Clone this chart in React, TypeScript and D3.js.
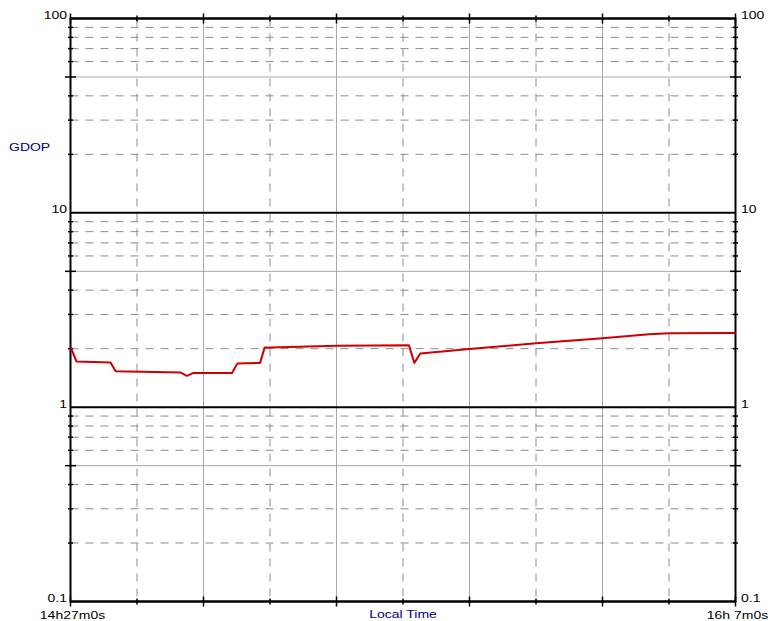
import React from 'react';
import * as d3 from 'd3';

// GDOP readings (time of day, value)
const times = [
  '14:27:00', '14:27:54', '14:33:00', '14:33:48', '14:43:30', '14:44:30', '14:45:30',
  '14:51:18', '14:52:06', '14:55:30', '14:56:12', '14:57:12', '15:07:00', '15:17:54',
  '15:18:42', '15:19:36', '15:27:00', '15:37:00', '15:47:00', '15:54:00', '15:57:00', '16:07:00',
];
const gdop = [
  2.04, 1.72, 1.70, 1.53, 1.51, 1.45, 1.50,
  1.50, 1.68, 1.69, 2.03, 2.03, 2.07, 2.08,
  1.69, 1.89, 1.99, 2.13, 2.26, 2.37, 2.40, 2.41,
];

const timeStart = '14:27:00';
const timeEnd = '16:07:00';
const tickStepMin = 10;
const timeLabels = ['14h27m0s', '16h 7m0s'];
const decades = [0.1, 1, 10, 100];
const decadeLabels = ['0.1', '1', '10', '100'];
const yTitle = 'GDOP';
const xTitle = 'Local Time';

const W = 770;
const H = 621;
const left = 70.5;
const right = 735.5;
const top = 18.5;
const bottom = 601.5;
const SX = 1.4; // the labels are drawn horizontally stretched

const parse = d3.timeParse('%H:%M:%S');

export default function App() {
  const t0 = parse(timeStart) as Date;
  const t1 = parse(timeEnd) as Date;
  const x = d3.scaleTime().domain([t0, t1]).range([left, right]);
  const y = d3.scaleLog().domain([0.1, 100]).range([bottom, top]);

  const pts = times.map((t, i) => ({ date: parse(t) as Date, v: gdop[i] }));
  const line = d3.line<{ date: Date; v: number }>()
    .x(d => x(d.date))
    .y(d => y(d.v));

  // ticks every 10 minutes from the start, solid grid every 20
  const nTicks = Math.round((+t1 - +t0) / 60000 / tickStepMin);
  const xTicks = d3.range(nTicks + 1).map(i => d3.timeMinute.offset(t0, i * tickStepMin));
  const inner = xTicks.slice(1, -1);

  // minor log grid values
  const minor: { v: number; solid: boolean }[] = [];
  [0.1, 1, 10].forEach(d => {
    for (let k = 2; k <= 9; k++) minor.push({ v: d * k, solid: k === 5 });
  });

  const label = (txt: string, px: number, py: number, anchor: string, color = '#000') => (
    <text
      key={txt + px + py}
      transform={`translate(${px},${py}) scale(${SX},1)`}
      textAnchor={anchor}
      fontFamily="Liberation Sans, Arial, sans-serif"
      fontSize={10}
      fill={color}
    >
      {txt}
    </text>
  );

  return (
    <svg width={W} height={H} style={{ position: 'absolute', left: 0, top: 0, background: '#fff' }}>
      {/* vertical grid */}
      {inner.map((d, i) => {
        const solid = i % 2 === 1;
        return (
          <line
            key={'vx' + i}
            x1={x(d)} x2={x(d)} y1={top} y2={bottom}
            stroke={solid ? '#a8a8a8' : '#8c8c8c'}
            strokeWidth={1}
            strokeDasharray={solid ? undefined : '8,7'}
          />
        );
      })}
      {/* horizontal minor grid */}
      {minor.map((m, i) => (
        <line
          key={'hy' + i}
          x1={left} x2={right} y1={y(m.v)} y2={y(m.v)}
          stroke={m.solid ? '#a8a8a8' : '#8c8c8c'}
          strokeWidth={1}
          strokeDasharray={m.solid ? undefined : '8,7'}
        />
      ))}
      {/* decade lines */}
      {decades.map(d => (
        <line key={'dec' + d} x1={left} x2={right} y1={y(d)} y2={y(d)} stroke="#000" strokeWidth={2} />
      ))}
      {/* frame */}
      <rect x={left} y={top} width={right - left} height={bottom - top} fill="none" stroke="#000" strokeWidth={2} />

      {/* x ticks top and bottom */}
      {xTicks.map((d, i) => {
        const len = i % 2 === 0 ? 5 : 3;
        return (
          <g key={'xt' + i}>
            <line x1={x(d)} x2={x(d)} y1={top - len} y2={top + len} stroke="#000" strokeWidth={1.5} />
            <line x1={x(d)} x2={x(d)} y1={bottom - len} y2={bottom + len} stroke="#000" strokeWidth={1.5} />
          </g>
        );
      })}
      {/* y ticks left and right */}
      {minor.map((m, i) => {
        const len = m.solid ? 5.5 : 2.5;
        return (
          <g key={'yt' + i}>
            <line x1={left - len} x2={left + len} y1={y(m.v)} y2={y(m.v)} stroke="#000" strokeWidth={1.5} />
            <line x1={right - len} x2={right + len} y1={y(m.v)} y2={y(m.v)} stroke="#000" strokeWidth={1.5} />
          </g>
        );
      })}

      {/* data */}
      <path d={line(pts) ?? ''} fill="none" stroke="#cc0000" strokeWidth={2} strokeLinejoin="round" />

      {/* y labels */}
      {decades.map((d, i) => label(decadeLabels[i], left - 3.5, y(d) + 0.5, 'end'))}
      {decades.map((d, i) => label(decadeLabels[i], right + 5.5, y(d) + 0.5, 'start'))}

      {/* x labels */}
      {label(timeLabels[0], x(t0) + 2, 619, 'middle')}
      {label(timeLabels[1], x(t1) + 2, 619, 'middle')}
      {label(xTitle, (left + right) / 2, 618, 'middle', '#000080')}
      {label(yTitle, 9, 151, 'start', '#000080')}
    </svg>
  );
}
